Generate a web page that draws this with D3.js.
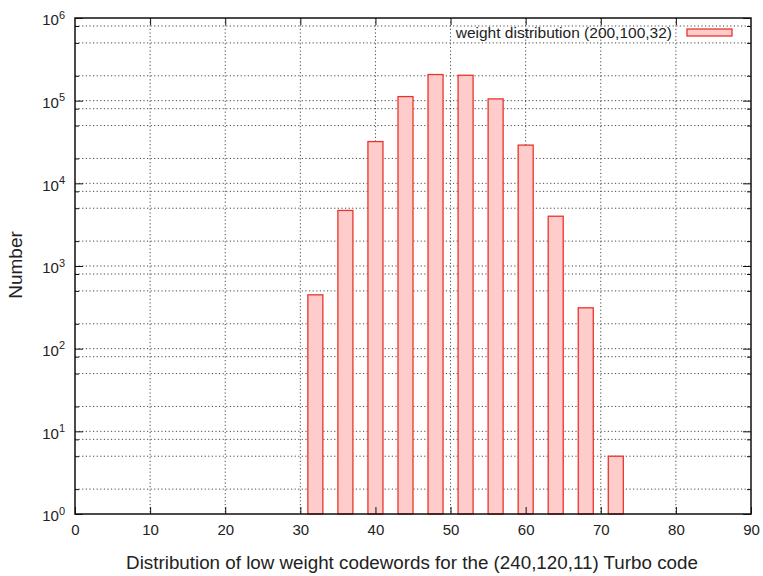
<!DOCTYPE html>
<html>
<head>
<meta charset="utf-8">
<script src="https://cdn.jsdelivr.net/npm/d3@7"></script>
<style>
  body { margin: 0; background: #fff; }
  svg { font-family: "Liberation Sans", Arial, sans-serif; }
  .grid line { stroke: #333; stroke-width: 0.9; stroke-dasharray: 1.2, 2.4; }
  .axis text { font-size: 15px; fill: #222; }
</style>
</head>
<body>
<svg id="chart" width="763" height="576"></svg>
<script>
(function() {

// codeword weights and their counts
var weights = [32, 36, 40, 44, 48, 52, 56, 60, 64, 68, 72];
var counts = [448, 4700, 32000, 112000, 207000, 203000, 105000, 29000, 4000, 312, 5];
var xTicks = [0, 10, 20, 30, 40, 50, 60, 70, 80, 90];
var yExponents = [0, 1, 2, 3, 4, 5, 6];
var gridMultipliers = [1, 2, 5, 8];
var legendLabel = 'weight distribution (200,100,32)';
var xLabel = 'Distribution of low weight codewords for the (240,120,11) Turbo code';
var yLabel = 'Number';
var barWidth = 2;

var svg = d3.select('#chart');

var margin = {top: 18, right: 12, bottom: 62, left: 75},
    width = +svg.attr('width') - margin.left - margin.right,
    height = +svg.attr('height') - margin.top - margin.bottom;

var x = d3.scaleLinear().domain([0, 90]).range([0, width]);
var y = d3.scaleLog().domain([1, 1e6]).range([height, 0]);

var g = svg.append('g')
    .attr('transform', 'translate(' + margin.left + ',' + margin.top + ')');

// grid: 1,2,5,8 of every decade
var gridVals = [];
yExponents.forEach(function(e) {
    if (e === 6) return;
    gridMultipliers.forEach(function(m) { gridVals.push(m * Math.pow(10, e)); });
});

var grid = g.append('g').attr('class', 'grid');
grid.selectAll('.hg')
    .data(gridVals.filter(function(v) { return v > 1; }))
  .enter().append('line')
    .attr('x1', 0).attr('x2', width)
    .attr('y1', function(d) { return y(d); })
    .attr('y2', function(d) { return y(d); });
grid.selectAll('.vg')
    .data(xTicks.slice(1, -1))
  .enter().append('line')
    .attr('y1', 0).attr('y2', height)
    .attr('x1', function(d) { return x(d); })
    .attr('x2', function(d) { return x(d); });

// bars
g.selectAll('.bar')
    .data(weights)
  .enter().append('rect')
    .attr('class', 'bar')
    .attr('x', function(d) { return x(d - barWidth / 2); })
    .attr('width', x(barWidth) - x(0))
    .attr('y', function(d, i) { return y(counts[i]); })
    .attr('height', function(d, i) { return height - y(counts[i]); })
    .attr('fill', '#ffcccc')
    .attr('stroke', '#e8352c')
    .attr('stroke-width', 1.3);

// axes with inward ticks
g.append('g')
    .attr('class', 'axis')
    .attr('transform', 'translate(0,' + height + ')')
    .call(d3.axisBottom(x).tickValues(xTicks).tickSize(-7).tickPadding(10).tickSizeOuter(0))
    .call(function(a) { a.select('.domain').remove(); a.selectAll('line').attr('stroke', '#111'); });

g.append('g')
    .call(d3.axisTop(x).tickValues(xTicks.slice(1, -1)).tickSize(-7).tickFormat(''))
    .call(function(a) { a.select('.domain').remove(); a.selectAll('line').attr('stroke', '#111'); });

var yMajor = yExponents.map(function(e) { return Math.pow(10, e); });

var yAxis = g.append('g')
    .attr('class', 'axis')
    .call(d3.axisLeft(y).tickValues(yMajor).tickSize(-8).tickFormat(''))
    .call(function(a) { a.select('.domain').remove(); a.selectAll('line').attr('stroke', '#111'); });

yAxis.selectAll('.tick').append('text')
    .attr('x', -10)
    .attr('dy', '0.45em')
    .attr('text-anchor', 'end')
    .attr('fill', '#222')
    .each(function(d) {
        var t = d3.select(this);
        t.append('tspan').text('10');
        t.append('tspan')
            .attr('dy', '-0.6em')
            .attr('font-size', '11px')
            .text(Math.round(Math.log10(d)));
    });

g.append('g')
    .attr('transform', 'translate(' + width + ',0)')
    .call(d3.axisRight(y).tickValues(yMajor).tickSize(-8).tickFormat(''))
    .call(function(a) { a.select('.domain').remove(); a.selectAll('line').attr('stroke', '#111'); });

// minor ticks
var minorVals = gridVals.filter(function(v) { return v > 1 && !yMajor.includes(v); });
g.append('g')
    .call(d3.axisLeft(y).tickValues(minorVals).tickSize(-4).tickFormat(''))
    .call(function(a) { a.select('.domain').remove(); a.selectAll('line').attr('stroke', '#111'); });
g.append('g')
    .attr('transform', 'translate(' + width + ',0)')
    .call(d3.axisRight(y).tickValues(minorVals).tickSize(-4).tickFormat(''))
    .call(function(a) { a.select('.domain').remove(); a.selectAll('line').attr('stroke', '#111'); });

// frame
g.append('rect')
    .attr('width', width).attr('height', height)
    .attr('fill', 'none').attr('stroke', '#111').attr('stroke-width', 1.5);

// legend
var legend = g.append('g')
    .attr('transform', 'translate(' + (width - 64) + ',' + 15 + ')');
legend.append('rect')
    .attr('x', 0).attr('y', -4)
    .attr('width', 45).attr('height', 7)
    .attr('fill', '#ffcccc').attr('stroke', '#e8352c').attr('stroke-width', 1.3);
legend.append('text')
    .attr('x', -15).attr('y', 0)
    .attr('dy', '0.35em')
    .attr('text-anchor', 'end')
    .attr('font-size', '15.5px')
    .attr('fill', '#222')
    .text(legendLabel);

// axis labels
svg.append('text')
    .attr('x', 412)
    .attr('y', 569)
    .attr('text-anchor', 'middle')
    .attr('font-size', '18.8px')
    .attr('fill', '#222')
    .text(xLabel);

svg.append('text')
    .attr('transform', 'translate(22,' + 265 + ') rotate(-90)')
    .attr('text-anchor', 'middle')
    .attr('font-size', '19px')
    .attr('fill', '#222')
    .text(yLabel);

})();
</script>
</body>
</html>
